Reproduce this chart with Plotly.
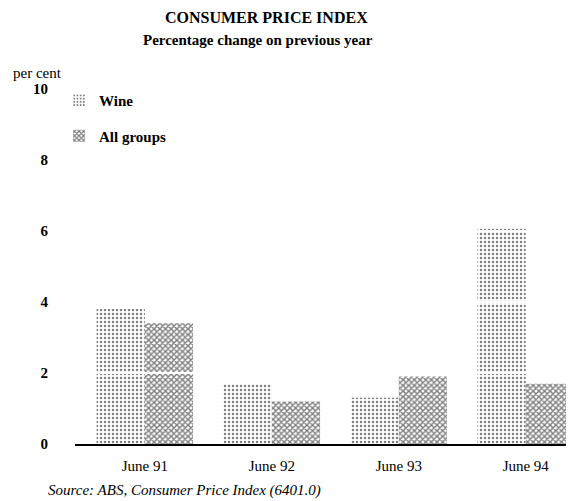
import plotly.graph_objects as go

categories = ["June 91", "June 92", "June 93", "June 94"]
wine = [3.8, 1.7, 1.3, 6.1]
all_groups = [3.4, 1.2, 1.9, 1.7]
y_ticks = [0, 2, 4, 6, 8, 10]

SERIF = "Liberation Serif, Times New Roman, serif"

# figure-space geometry (page has an 8px offset)
L, T, B = 67, 72, 57
PW, PH = 499, 364

def py(page_y):
    return 1 + (T - (page_y - 8)) / PH

def px(page_x):
    return ((page_x - 8) - L) / PW

fig = go.Figure()
fig.add_trace(go.Bar(
    x=categories, y=wine, name="Wine", legendgroup="w",
    marker=dict(color="white", line=dict(width=0),
                pattern=dict(shape=".", size=4, solidity=0.3, fgcolor="black", bgcolor="white")),
))
fig.add_trace(go.Bar(
    x=categories, y=all_groups, name="All groups", legendgroup="a",
    marker=dict(color="white", line=dict(width=0),
                pattern=dict(shape="x", size=4, solidity=0.6, fgcolor="black", bgcolor="white")),
))

# white gridlines drawn over the bars
for t in y_ticks[1:]:
    fig.add_shape(type="line", xref="paper", yref="y", x0=0, x1=1, y0=t, y1=t,
                  line=dict(color="white", width=2), layer="above")

fig.update_layout(
    width=566, height=493,
    margin=dict(l=L, r=0, t=T, b=B),
    paper_bgcolor="white", plot_bgcolor="white",
    barmode="group", bargap=0.24, bargroupgap=0,
    font=dict(family=SERIF, size=14, color="black"),
    showlegend=True,
    legend=dict(x=-0.032, y=py(84), xanchor="left", yanchor="top",
                font=dict(family=SERIF, size=15, color="black", weight="bold"),
                tracegroupgap=13, bgcolor="rgba(0,0,0,0)"),
    xaxis=dict(range=[-0.55, 3.38], showgrid=False, showline=True, linecolor="black",
               linewidth=2, ticks="", ticklabelstandoff=7, tickfont=dict(family=SERIF, size=15)),
    yaxis=dict(range=[0, 10.25], tickvals=y_ticks, showgrid=False, zeroline=False,
               showline=False, ticks="", ticklabelstandoff=26,
               tickfont=dict(family=SERIF, size=15, weight="bold")),
    annotations=[
        dict(text="<b>CONSUMER PRICE INDEX</b>", xref="paper", yref="paper",
             x=px(266), y=py(18), xanchor="center", yanchor="middle", showarrow=False,
             font=dict(family=SERIF, size=16)),
        dict(text="<b>Percentage change on previous year</b>", xref="paper", yref="paper",
             x=px(258), y=py(40), xanchor="center", yanchor="middle", showarrow=False,
             font=dict(family=SERIF, size=15)),
        dict(text="per cent", xref="paper", yref="paper",
             x=px(37), y=py(73), xanchor="center", yanchor="middle", showarrow=False,
             font=dict(family=SERIF, size=15)),
        dict(text="<i>Source: ABS, Consumer Price Index (6401.0)</i>", xref="paper", yref="paper",
             x=px(46), y=py(490), xanchor="left", yanchor="middle", showarrow=False,
             font=dict(family=SERIF, size=15)),
    ],
)

fig.write_html("out.html")
